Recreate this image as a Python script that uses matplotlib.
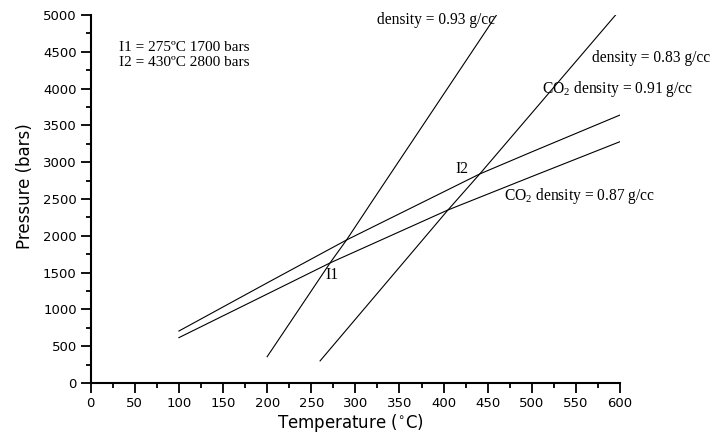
import matplotlib
matplotlib.use("Agg")
import matplotlib.pyplot as plt
from matplotlib.ticker import MultipleLocator

# Data
t_093 = [200, 272, 290, 320, 460]
p_093 = [357, 1643, 1943, 2486, 5000]

t_083 = [260, 405, 441, 595]
p_083 = [300, 2351, 2840, 5000]

t_091 = [100, 200, 290, 441, 500, 600]
p_091 = [706, 1360, 1943, 2840, 3140, 3641]

t_087 = [100, 200, 272, 405, 500, 600]
p_087 = [616, 1208, 1635, 2351, 2805, 3279]

plt.rcParams["mathtext.fontset"] = "custom"
plt.rcParams["mathtext.rm"] = "Liberation Serif"
plt.rcParams["mathtext.it"] = "Liberation Serif:italic"

serif = ["Liberation Serif", "DejaVu Serif"]
sans = ["DejaVu Sans"]

fig = plt.figure(figsize=(7.25, 4.33), dpi=100)
ax = fig.add_axes([0.1251, 0.1155, 0.7301, 0.8499])

for t, p in [(t_093, p_093), (t_083, p_083), (t_091, p_091), (t_087, p_087)]:
    ax.plot(t, p, color="black", lw=0.8)

ax.set_xlim(0, 600)
ax.set_ylim(0, 5000)
ax.xaxis.set_major_locator(MultipleLocator(50))
ax.xaxis.set_minor_locator(MultipleLocator(25))
ax.yaxis.set_major_locator(MultipleLocator(500))
ax.yaxis.set_minor_locator(MultipleLocator(250))
for s in ["top", "right"]:
    ax.spines[s].set_visible(False)
for s in ["left", "bottom"]:
    ax.spines[s].set_linewidth(1.5)
ax.tick_params(which="major", direction="out", length=7, width=1.3, labelsize=9.5, pad=3)
ax.tick_params(which="minor", direction="out", length=3.5, width=1.3)
for lab in ax.get_xticklabels() + ax.get_yticklabels():
    lab.set_family(sans)

xl = ax.set_xlabel("Temperature ($\\mathregular{^{\\circ}}$C)", fontsize=12, family=sans)
xl.set_va("center")
ax.xaxis.set_label_coords(0.49, -0.1087)
yl = ax.set_ylabel("Pressure (bars)", fontsize=12, family=sans)
yl.set_va("center")
ax.yaxis.set_label_coords(-0.124, 0.534)

fs = 11.2
ax.text(458, 4932, "density = 0.93 g/cc", ha="right", va="center", fontsize=fs, family=serif, clip_on=False)
ax.text(568, 4416, "density = 0.83 g/cc", ha="left", va="center", fontsize=fs, family=serif, clip_on=False)
ax.text(511, 3990, "CO$_2$ density = 0.91 g/cc", ha="left", va="center", fontsize=fs, family=serif, clip_on=False)
ax.text(468, 2541, "CO$_2$ density = 0.87 g/cc", ha="left", va="center", fontsize=fs, family=serif, clip_on=False)
ax.text(421, 2908, "I2", ha="center", va="center", fontsize=fs, family=serif)
ax.text(274, 1467, "I1", ha="center", va="center", fontsize=fs, family=serif)
ax.text(32, 4561, "I1 = 275ºC 1700 bars", ha="left", va="center", fontsize=11, family=serif)
ax.text(32, 4357, "I2 = 430ºC 2800 bars", ha="left", va="center", fontsize=11, family=serif)

fig.savefig("out.png", dpi=100)
